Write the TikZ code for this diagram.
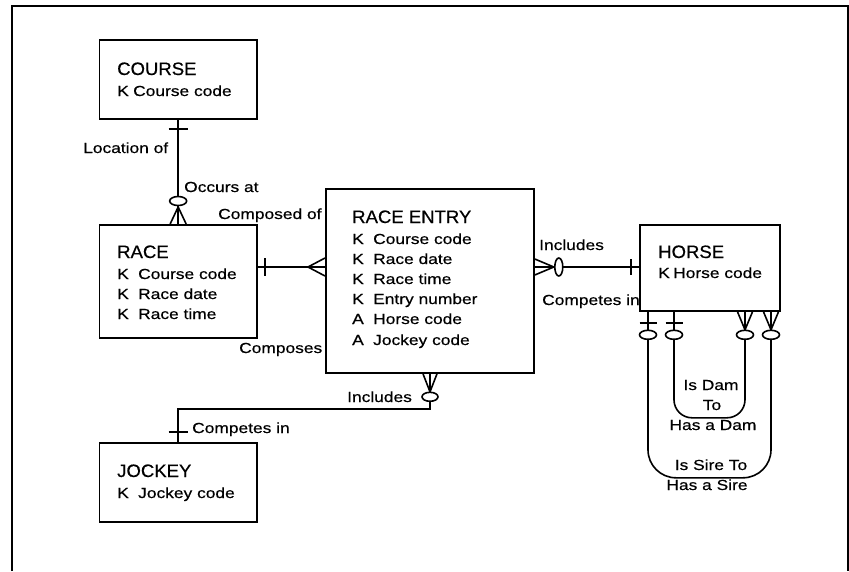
\documentclass[tikz,border=0pt]{standalone}
\usepackage{fontspec}
\setmainfont{Liberation Sans}
\newfontfamily\ttlfont[FakeStretch=1.03,FakeBold=0.5]{Liberation Sans}
\newfontfamily\txtfont[FakeStretch=1.19,FakeBold=0.5]{Liberation Sans}
\usetikzlibrary{calc}

\begin{document}
\begin{tikzpicture}[x=1pt,y=-1pt,
  entity/.style={draw, line width=1.8pt, anchor=north west, inner sep=0pt},
  conn/.style={line width=1.6pt},
  optring/.style={line width=1.6pt, fill=white},
  ttl/.style={anchor=base west, inner sep=0pt, font=\ttlfont\fontsize{18}{21}\selectfont},
  txt/.style={anchor=base west, inner sep=0pt, font=\txtfont\fontsize{14.6}{20}\selectfont},
  ctxt/.style={anchor=base, inner sep=0pt, font=\txtfont\fontsize{14.6}{20}\selectfont},
  frame/.style={line width=2pt}]
\useasboundingbox (0,0) rectangle (849,571);

% outer frame, open at the bottom
\draw[frame] (11.5,571) -- (11.5,5.5) -- (847.5,5.5) -- (847.5,571);

% entity boxes
\node[entity, minimum width=157.5pt, minimum height=79pt] (course) at (98.5,39) {};
\node[entity, minimum width=157.5pt, minimum height=113pt] (race) at (98.5,224) {};
\node[entity, minimum width=208pt, minimum height=184pt] (entry) at (325,188) {};
\node[entity, minimum width=140pt, minimum height=86pt] (horse) at (639,224) {};
\node[entity, minimum width=157.5pt, minimum height=79pt] (jockey) at (98.5,442) {};

% entity contents
\node[ttl] (courseT) at (117,75) {COURSE};
\node[txt] (courseA) at (117,96) {\makebox[16pt][l]{K}Course code};

\node[ttl] (raceT) at (117,258) {RACE};
\node[txt] (raceA1) at (117,279) {\makebox[21pt][l]{K}Course code};
\node[txt] (raceA2) at (117,299) {\makebox[21pt][l]{K}Race date};
\node[txt] (raceA3) at (117,319) {\makebox[21pt][l]{K}Race time};

\node[ttl] (entryT) at (352,223) {RACE ENTRY};
\node[txt] (entryA1) at (352,244) {\makebox[21pt][l]{K}Course code};
\node[txt] (entryA2) at (352,264) {\makebox[21pt][l]{K}Race date};
\node[txt] (entryA3) at (352,284) {\makebox[21pt][l]{K}Race time};
\node[txt] (entryA4) at (352,304) {\makebox[21pt][l]{K}Entry number};
\node[txt] (entryA5) at (352,324) {\makebox[21pt][l]{A}Horse code};
\node[txt] (entryA6) at (352,345) {\makebox[21pt][l]{A}Jockey code};

\node[ttl] (horseT) at (658,258) {HORSE};
\node[txt] (horseA) at (658,278) {\makebox[15pt][l]{K}Horse code};

\node[ttl] (jockeyT) at (117,477) {JOCKEY};
\node[txt] (jockeyA) at (117,498) {\makebox[21pt][l]{K}Jockey code};

% COURSE -- RACE
\coordinate (crO) at ($(race.north)+(0,-23)$);
\coordinate (crA) at ($(race.north)+(0,-17)$);
\draw[conn] (course.south) -- (race.north);
\draw[conn] ($(course.south)+(-9.5,9)$) -- ++(19,0);
\draw[conn] ($(race.north)+(-8,0)$) -- (crA) -- ($(race.north)+(8,0)$);
\draw[optring] (crO) ellipse[x radius=8.5, y radius=4.5];
\node[txt] (locOf) at (83,153) {Location of};
\node[txt] (occAt) at (184,192) {Occurs at};

% RACE -- RACE ENTRY
\coordinate (reA) at ($(race.north east)+(0,43)$);
\coordinate (reB) at (reA -| entry.west);
\draw[conn] (reA) -- (reB);
\draw[conn] ($(reA)+(7,-9)$) -- ++(0,18);
\draw[conn] ($(reB)+(0,-9)$) -- ($(reB)+(-17,0)$) -- ($(reB)+(0,9)$);
\node[txt] (compOf) at (218,219) {Composed of};
\node[txt] (comps) at (239,353) {Composes};

% RACE ENTRY -- HORSE
\coordinate (ehA) at ($(entry.north east)+(0,79)$);
\coordinate (ehB) at (ehA -| horse.west);
\draw[conn] (ehA) -- (ehB);
\draw[conn] ($(ehA)+(0,-8)$) -- ($(ehA)+(19,0)$) -- ($(ehA)+(0,8)$);
\draw[optring] ($(ehA)+(24,0)$) ellipse[x radius=4, y radius=9];
\draw[conn] ($(ehB)+(-8,-8)$) -- ++(0,16);
\node[txt] (inclH) at (539,250) {Includes};
\node[txt] (compH) at (542,305) {Competes in};

% RACE ENTRY -- JOCKEY
\coordinate (ejA) at ($(entry.south west)+(105,0)$);
\draw[conn] (ejA) -- ++(0,35) -| (jockey.north);
\draw[conn] ($(ejA)+(-7,0)$) -- ($(ejA)+(0,18)$) -- ($(ejA)+(7,0)$);
\draw[optring] ($(ejA)+(0,23)$) ellipse[x radius=8, y radius=4.5];
\draw[conn] ($(jockey.north)+(-9.5,-10)$) -- ++(19,0);
\node[txt] (inclJ) at (347,402) {Includes};
\node[txt] (compJ) at (192,433) {Competes in};

% HORSE -- HORSE (dam and sire)
\coordinate (hs) at (horse.south west);
\draw[conn, rounded corners=18pt] ($(hs)+(35,0)$) -- ($(hs)+(35,106)$) -- ($(hs)+(106,106)$) -- ($(hs)+(106,0)$);
\draw[conn, rounded corners=28pt] ($(hs)+(9,0)$) -- ($(hs)+(9,166)$) -- ($(hs)+(132,166)$) -- ($(hs)+(132,0)$);
\foreach \dx in {9,35} {
  \draw[conn] ($(hs)+(\dx-8.5,11)$) -- ++(17,0);
}
\foreach \dx in {106,132} {
  \draw[conn] ($(hs)+(\dx-7.5,0)$) -- ($(hs)+(\dx,18)$) -- ($(hs)+(\dx+7.5,0)$);
}
\foreach \dx in {9,35,106,132} {
  \draw[optring] ($(hs)+(\dx,23)$) ellipse[x radius=8.5, y radius=4.5];
}
\node[ctxt] (damA) at (711,390) {Is Dam};
\node[ctxt] (damB) at (712,410) {To};
\node[ctxt] (damC) at (713,430) {Has a Dam};
\node[ctxt] (sireA) at (711,470) {Is Sire To};
\node[ctxt] (sireB) at (707,490) {Has a Sire};
\end{tikzpicture}
\end{document}
